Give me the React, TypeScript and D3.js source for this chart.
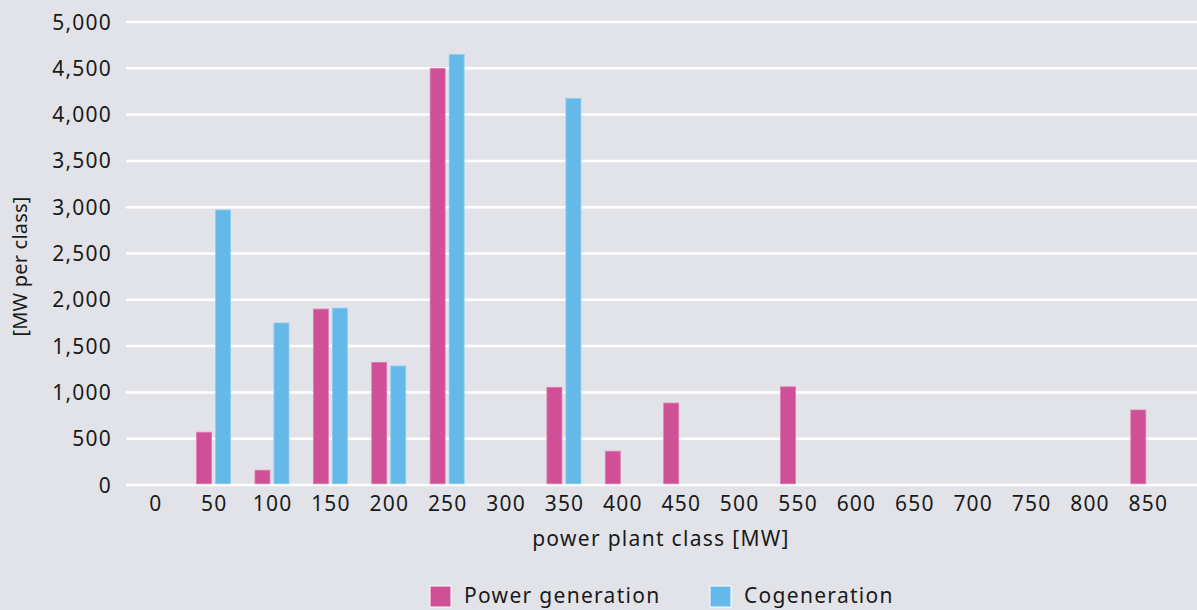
import React from "react";
import * as d3 from "d3";

const categories = ["0","50","100","150","200","250","300","350","400","450","500","550","600","650","700","750","800","850"];
const powerGeneration = [0,570,160,1900,1325,4500,0,1055,365,885,0,1060,0,0,0,0,0,810];
const cogeneration = [0,2970,1750,1910,1285,4650,0,4175,0,0,0,0,0,0,0,0,0,0];
const yTicks = [0,500,1000,1500,2000,2500,3000,3500,4000,4500,5000];
const seriesNames = ["Power generation","Cogeneration"];
const colors = ["#cf5096","#64b9e9"];
const strokes = ["#e27bb4","#8ccdf2"];

const W = 1197, H = 610;
const FONT = "'Noto Sans', 'Open Sans', sans-serif";
const TXT = "#1a1a1a";

export default function App() {
  const x = d3.scaleBand().domain(categories).range([126, 1177]);
  const y = d3.scaleLinear().domain([0, 5000]).range([485, 22]);
  const fmt = d3.format(",");
  const barW = 15, gap = 4;
  const series = [powerGeneration, cogeneration];
  return (
    <svg width={W} height={H} style={{ position: "absolute", left: 0, top: 0, background: "#e2e3e8" }}>
      <rect x={0} y={0} width={W} height={H} fill="#e2e3e8" />
      {yTicks.map(t => (
        <g key={t}>
          <line x1={126} x2={W} y1={y(t)} y2={y(t)} stroke="#ffffff" strokeWidth={2.5} />
          <text x={112} y={y(t)} dy="0.36em" textAnchor="end" fontSize={21} letterSpacing={1.2} fontFamily={FONT} fill={TXT}>{fmt(t)}</text>
        </g>
      ))}
      {series.map((vals, si) => vals.map((v, i) => {
        if (!v) return null;
        const cx = (x(categories[i]) as number) + x.bandwidth() / 2;
        const bx = si === 0 ? cx - gap / 2 - barW : cx + gap / 2;
        return (
          <rect key={si + "-" + i} x={bx} y={y(v)} width={barW} height={y(0) - y(v) - 1.2}
            fill={colors[si]} stroke={strokes[si]} strokeWidth={0.8} />
        );
      }))}
      {categories.map(c => (
        <text key={c} x={(x(c) as number) + x.bandwidth() / 2 + 0.6} y={511} textAnchor="middle" fontSize={21} letterSpacing={1.2} fontFamily={FONT} fill={TXT}>{c}</text>
      ))}
      <text x={661} y={546} textAnchor="middle" fontSize={21} letterSpacing={1.3} fontFamily={FONT} fill={TXT}>power plant class [MW]</text>
      <text transform={`translate(27,${(198 + 335) / 2}) rotate(-90)`} textAnchor="middle" fontSize={20} letterSpacing={0.2} fontFamily={FONT} fill={TXT}>[MW per class]</text>
      {seriesNames.map((n, i) => {
        const lx = i === 0 ? 430 : 710;
        return (
          <g key={n}>
            <rect x={lx} y={586} width={21} height={21} fill={colors[i]} stroke="#ffffff" strokeWidth={1} />
            <text x={lx + 34} y={603} fontSize={21} letterSpacing={1.3} fontFamily={FONT} fill={TXT}>{n}</text>
          </g>
        );
      })}
    </svg>
  );
}
